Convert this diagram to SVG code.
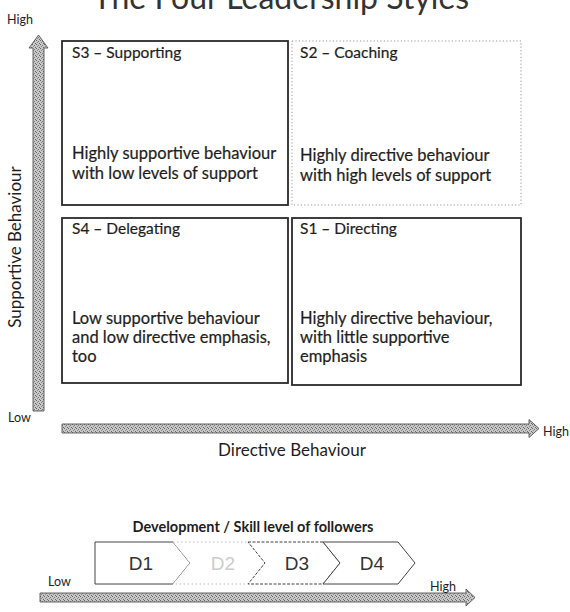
<svg xmlns="http://www.w3.org/2000/svg" width="570" height="612" viewBox="0 0 570 612">
  <style>
    text { font-family: Lato, "Open Sans", "Liberation Sans", sans-serif; fill: #1e1e1e; }
    .title { font-size: 32px; fill: #333; }
    .axis { font-size: 12.5px; }
    .axis-name { font-size: 17px; }
    .head { font-size: 15.5px; stroke: #1e1e1e; stroke-width: 0.2; }
    .body { font-size: 16.5px; stroke: #1e1e1e; stroke-width: 0.2; }
    .box { fill: #fff; stroke: #2a2a2a; stroke-width: 1.8; }
    .box-faint { fill: #fff; stroke: #999; stroke-width: 1; stroke-dasharray: 1.2 2.2; }
    .arrow { fill: url(#stipple); stroke: #555; stroke-width: 0.9; }
    .chev { fill: #fff; stroke: #444; stroke-width: 1; }
    .chev-faint { fill: #fff; stroke: #bbb; stroke-width: 1; stroke-dasharray: 1.5 2.5; }
    .dlabel { font-size: 19px; fill: #333; font-family: "Liberation Sans", sans-serif; }
  </style>
  <defs>
    <pattern id="stipple" width="4" height="4" patternUnits="userSpaceOnUse">
      <rect width="4" height="4" fill="#c8c8c8"/>
      <rect x="0" y="0" width="1" height="1" fill="#666"/>
      <rect x="2" y="1" width="1" height="1" fill="#7a7a7a"/>
      <rect x="1" y="2" width="1" height="1" fill="#888"/>
      <rect x="3" y="3" width="1" height="1" fill="#666"/>
    </pattern>
  </defs>

  <!-- Title, partly above the top edge -->
  <text class="title" x="281" y="9" text-anchor="middle">The Four Leadership Styles</text>

  <!-- Axes -->
  <g id="axes">
    <path id="axis-supportive" class="arrow" d="M33,411 L33,48 L29,48 L38.5,35 L48,48 L44,48 L44,411 Z"/>
    <path id="axis-directive" class="arrow" d="M62,424 L529,424 L529,419.5 L539,428.5 L529,437.5 L529,433 L62,433 Z"/>
    <text class="axis" x="7" y="24">High</text>
    <text class="axis" x="8" y="422">Low</text>
    <text class="axis" x="543" y="436">High</text>
    <text class="axis-name" x="292" y="456" text-anchor="middle">Directive Behaviour</text>
    <text class="axis-name" transform="translate(21,247) rotate(-90)" text-anchor="middle">Supportive Behaviour</text>
  </g>

  <!-- Quadrants -->
  <g id="s3">
    <rect class="box" x="62" y="41" width="226" height="164"/>
    <text class="head" x="72" y="58">S3 – Supporting</text>
    <text class="body" x="72" y="159">Highly supportive behaviour</text>
    <text class="body" x="72" y="179">with low levels of support</text>
  </g>
  <g id="s2">
    <rect class="box-faint" x="292" y="41" width="229" height="164"/>
    <text class="head" x="300" y="58">S2 – Coaching</text>
    <text class="body" x="300" y="161">Highly directive behaviour</text>
    <text class="body" x="300" y="181">with high levels of support</text>
  </g>
  <g id="s4">
    <rect class="box" x="62" y="218" width="226" height="165"/>
    <text class="head" x="72" y="234">S4 – Delegating</text>
    <text class="body" x="72" y="324">Low supportive behaviour</text>
    <text class="body" x="72" y="343">and low directive emphasis,</text>
    <text class="body" x="72" y="362">too</text>
  </g>
  <g id="s1">
    <rect class="box" x="292" y="218" width="229" height="167"/>
    <text class="head" x="300" y="234">S1 – Directing</text>
    <text class="body" x="300" y="324">Highly directive behaviour,</text>
    <text class="body" x="300" y="343">with little supportive</text>
    <text class="body" x="300" y="362">emphasis</text>
  </g>

  <!-- Development scale -->
  <g id="development">
    <text x="253" y="532" text-anchor="middle" font-size="14.5" font-weight="bold">Development / Skill level of followers</text>
    <path id="axis-development" class="arrow" d="M40,593 L466,593 L466,589 L475,597.5 L466,606 L466,602 L40,602 Z"/>
    <text class="axis" x="48" y="586">Low</text>
    <text class="axis" x="430" y="591">High</text>
  </g>
  <g id="d1">
    <path class="chev" d="M95,542 L173,542 L190,563 L173,584 L95,584 Z"/>
    <text class="dlabel" x="141" y="570" text-anchor="middle">D1</text>
  </g>
  <g id="d2">
    <path class="chev-faint" d="M173,542 L248,542 L265,563 L248,584 L173,584 L190,563 Z"/>
    <text class="dlabel" x="223" y="570" text-anchor="middle" style="fill:#ccc">D2</text>
  </g>
  <g id="d3">
    <path class="chev" d="M248,542 L323,542 L340,563 L323,584 L248,584 L265,563 Z" stroke-dasharray="3 1.5"/>
    <text class="dlabel" x="297" y="570" text-anchor="middle">D3</text>
  </g>
  <g id="d4">
    <path class="chev" d="M323,542 L398,542 L415,563 L398,584 L323,584 L340,563 Z"/>
    <text class="dlabel" x="372" y="570" text-anchor="middle">D4</text>
  </g>
</svg>
